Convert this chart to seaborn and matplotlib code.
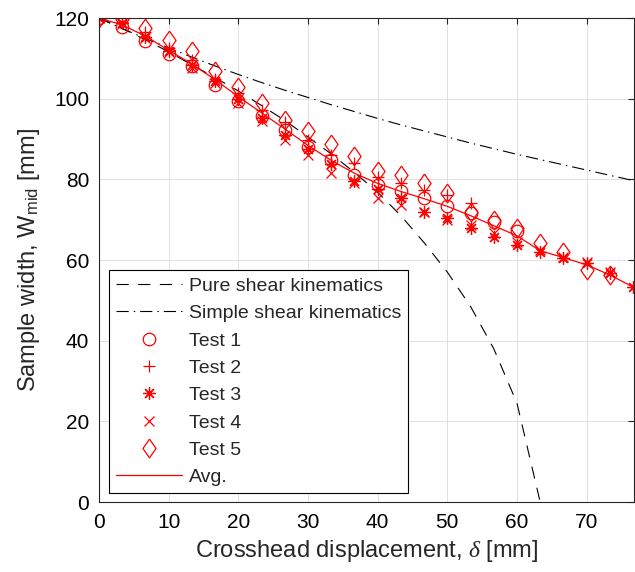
import matplotlib
matplotlib.use("Agg")
import matplotlib.pyplot as plt
import seaborn as sns

# ---- data ----
X = [0, 3.33, 6.67, 10, 13.33, 16.67, 20, 23.33, 26.67, 30, 33.33, 36.67,
     40, 43.33, 46.67, 50, 53.33, 56.67, 60, 63.33, 66.67, 70, 73.33, 76.67]

pure_shear = [120, 117.4, 114.6, 111.6, 108.4, 105.2, 101.9, 98.3, 94.6, 90.5,
              86.3, 81.7, 76.8, 71.0, 64.3, 57.0, 48.5, 38.0, 24.5, 0.0]
simple_shear = [120, 117.4, 114.9, 112.6, 110.3, 108.1, 106.0, 104.0, 102.1, 100.3,
                98.5, 96.8, 95.1, 93.5, 92.0, 90.5, 89.0, 87.6, 86.2, 84.9,
                83.6, 82.3, 81.0, 79.7]
test1 = [120, 117.7, 114.2, 111.0, 108.0, 103.5, 99.3, 95.6, 92.3, 88.0, 84.9,
         81.1, 78.7, 77.0, 75.3, 73.3, 71.6, 69.5, 67.2]
test2 = [120, 119.0, 116.5, 112.5, 109.5, 105.0, 101.3, 97.2, 94.3, 89.8, 86.0,
         84.0, 80.5, 79.0, 77.4, 76.1, 74.1]
test3 = [120, 118.8, 115.4, 111.7, 108.4, 104.3, 99.8, 95.2, 91.0, 87.6, 83.8,
         79.5, 77.5, 75.3, 72.0, 70.4, 67.9, 65.8, 63.7, 62.1, 60.4, 59.2, 56.7, 53.2]
test4 = [120, 118.5, 115.0, 111.5, 107.5, 104.0, 99.0, 94.5, 89.8, 86.1, 81.5,
         79.0, 75.3, 73.6, 72.0, 70.0, 68.7, 66.7, 64.5, 62.5, 60.8, 59.6, 57.0]
test5 = [120, 119.8, 117.5, 114.6, 111.7, 106.8, 103.0, 98.9, 94.8, 91.9, 88.8,
         85.7, 82.0, 81.1, 79.0, 76.6, 72.0, 70.0, 67.9, 64.2, 62.1, 57.5, 56.3]
avg = [120, 118.3, 115.5, 112.0, 108.6, 104.7, 100.5, 96.5, 92.5, 88.4, 84.7,
       81.5, 79.0, 77.0, 75.2, 73.3, 71.0, 68.5, 66.0, 62.3, 60.6, 58.8, 56.3, 53.3]

x_ticks = [0, 10, 20, 30, 40, 50, 60, 70]
y_ticks = [0, 20, 40, 60, 80, 100, 120]

# ---- style ----
sns.set_style("white")
plt.rcParams["font.family"] = ["Liberation Sans", "DejaVu Sans"]
plt.rcParams["mathtext.fontset"] = "custom"
plt.rcParams["mathtext.rm"] = "Liberation Sans"
plt.rcParams["mathtext.it"] = "Liberation Serif:italic"

fig = plt.figure(figsize=(6.35, 5.72), dpi=100)
ax = fig.add_axes([99 / 635, 70 / 572, 535 / 635, 484 / 572])

red = "#ff0000"
diamond = [(0, 1), (0.7, 0), (0, -1), (-0.7, 0), (0, 1)]

sns.lineplot(x=X[:len(pure_shear)], y=pure_shear, ax=ax, color="k", lw=0.8,
             linestyle=(0, (11, 8.5)), label="Pure shear kinematics", errorbar=None)
sns.lineplot(x=X[:len(simple_shear)], y=simple_shear, ax=ax, color="k", lw=0.8,
             linestyle=(0, (11, 4.5, 1.3, 4.5)), label="Simple shear kinematics",
             errorbar=None)

series = [(test1, "o", 9, "Test 1"), (test2, "+", 9, "Test 2"),
          (test3, (8, 2, 0), 9, "Test 3"), (test4, "x", 6.5, "Test 4"),
          (test5, diamond, 13.5, "Test 5")]
for vals, m, ms, lab in series:
    sns.lineplot(x=X[:len(vals)], y=vals, ax=ax, linestyle="none", marker=m,
                 markersize=ms, markerfacecolor="none", markeredgecolor=red,
                 markeredgewidth=0.9, color=red, label=lab, errorbar=None)

sns.lineplot(x=X[:len(avg)], y=avg, ax=ax, color=red, lw=0.9, label="Avg.",
             errorbar=None)

ax.set_xlim(0, 76.8)
ax.set_ylim(0, 120)
ax.set_xticks(x_ticks)
ax.set_yticks(y_ticks)
ax.grid(True, color="#e0e0e0", lw=0.7)
ax.set_axisbelow(True)
for s in ax.spines.values():
    s.set_color("#262626")
    s.set_linewidth(0.8)
ax.tick_params(direction="in", length=4, width=0.8, top=True, right=True,
               labelsize=15, colors="#262626", labelcolor="black")
ax.tick_params(axis="x", pad=8)
ax.tick_params(axis="y", pad=7)

ax.set_xlabel(r"Crosshead displacement, $\delta$ [mm]", fontsize=17, labelpad=4)
ax.set_ylabel(r"Sample width, W$_{\mathrm{mid}}$ [mm]", fontsize=17, labelpad=9)

leg = ax.legend(loc="lower left", bbox_to_anchor=(0.0187, 0.0186),
                borderaxespad=0, fontsize=14, frameon=True, fancybox=False,
                edgecolor="black", framealpha=1, handlelength=3.4,
                handletextpad=0.35, labelspacing=0.5, borderpad=0.35,
                numpoints=1)
leg.get_frame().set_linewidth(0.8)

fig.savefig("out.png", dpi=100)
